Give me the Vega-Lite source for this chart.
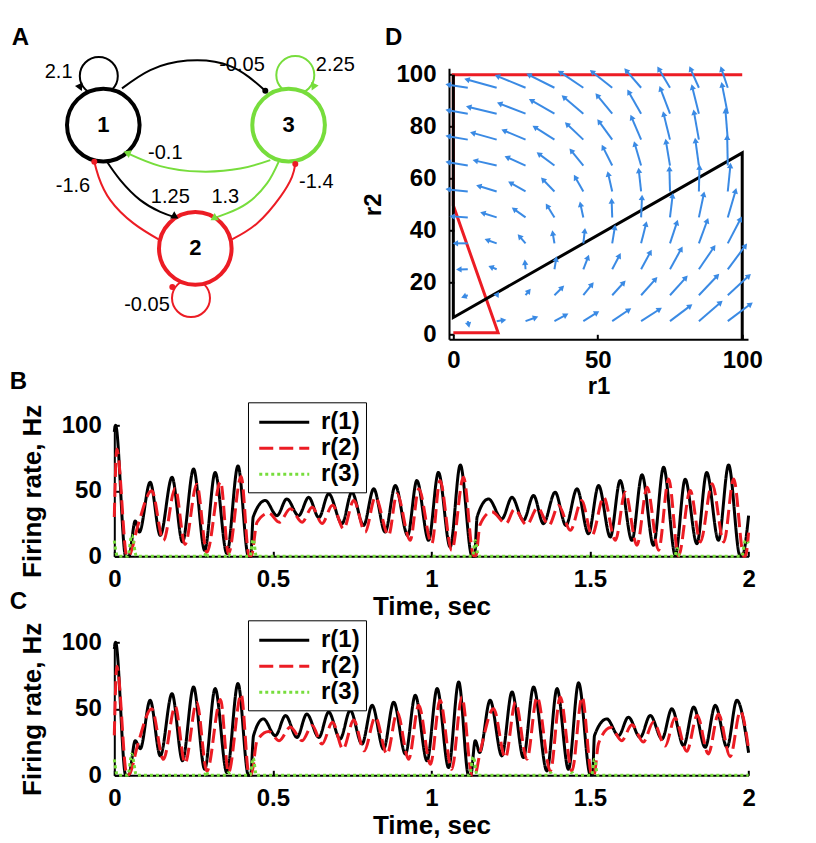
{
"$schema":"https://vega.github.io/schema/vega-lite/v6.json",
"background":"white",
"padding":{"left":9.3,"top":26.3,"right":5,"bottom":2},
"spacing":86,
"bounds":"flush",
"resolve":{"scale":{"color":"independent","strokeDash":"independent"}},
"config":{
 "view":{"stroke":null},
 "font":"Liberation Sans",
 "axis":{"labelFont":"Liberation Sans","labelFontSize":24,"labelFontWeight":"bold","labelColor":"#000","titleFont":"Liberation Sans","titleFontSize":26,"titleFontWeight":"bold","titleColor":"#000","domainColor":"#000","domainWidth":2,"tickColor":"#000","tickWidth":2,"tickSize":-5,"grid":false,"labelFlush":false},
 "legend":{"labelFont":"Liberation Sans","labelFontSize":24,"labelFontWeight":"bold","labelColor":"#000","padding":6,"rowPadding":0,"symbolType":"M-0.7,0L3.3,0","symbolSize":625,"symbolStrokeWidth":3,"strokeColor":"#000","fillColor":"white","labelOffset":39}
},
"datasets":{
 "arrows":[
  {"a":5,"b":95,"c":-1.8,"d":96.2},{"a":5,"b":85,"c":-1.8,"d":86.3},{"a":5,"b":75,"c":-1.8,"d":76.3},{"a":5,"b":65,"c":-1.8,"d":66.3},{"a":5,"b":55,"c":-1.8,"d":55.8},{"a":5,"b":45,"c":-0.4,"d":45.4},{"a":5,"b":35,"c":0.7,"d":35},{"a":5,"b":25,"c":1.9,"d":24.9},{"a":5,"b":15,"c":3.6,"d":14.4},{"a":5,"b":5,"c":5.3,"d":3.5},
  {"a":15,"b":95,"c":4.7,"d":98.2},{"a":15,"b":85,"c":5.3,"d":87.6},{"a":15,"b":75,"c":6.7,"d":77.6},{"a":15,"b":65,"c":7.6,"d":66.9},{"a":15,"b":55,"c":8.8,"d":57.1},{"a":15,"b":45,"c":10.2,"d":46.7},{"a":15,"b":35,"c":11.7,"d":36.3},{"a":15,"b":25,"c":13,"d":25.9},{"a":15,"b":15,"c":15.3,"d":15.5},{"a":15,"b":5,"c":17.4,"d":5.4},
  {"a":25,"b":95,"c":15.2,"d":99.5},{"a":25,"b":85,"c":16,"d":88.9},{"a":25,"b":75,"c":17.5,"d":78.5},{"a":25,"b":65,"c":18.6,"d":68.2},{"a":25,"b":55,"c":19.8,"d":58.3},{"a":25,"b":45,"c":21,"d":48.2},{"a":25,"b":35,"c":22.9,"d":37.7},{"a":25,"b":25,"c":24.8,"d":27.7},{"a":25,"b":15,"c":26.2,"d":16.7},{"a":25,"b":5,"c":28.5,"d":6.4},
  {"a":35,"b":95,"c":26.1,"d":100},{"a":35,"b":85,"c":27,"d":90.1},{"a":35,"b":75,"c":28.2,"d":79.8},{"a":35,"b":65,"c":29.6,"d":69.5},{"a":35,"b":55,"c":31,"d":59.6},{"a":35,"b":45,"c":32.5,"d":49.5},{"a":35,"b":35,"c":34.4,"d":39},{"a":35,"b":25,"c":35.6,"d":29},{"a":35,"b":15,"c":37.7,"d":18},{"a":35,"b":5,"c":39,"d":7.4},
  {"a":45,"b":95,"c":37,"d":101},{"a":45,"b":85,"c":38.2,"d":91.4},{"a":45,"b":75,"c":39.3,"d":81},{"a":45,"b":65,"c":40.8,"d":70.8},{"a":45,"b":55,"c":42.2,"d":60.5},{"a":45,"b":45,"c":44,"d":50.1},{"a":45,"b":35,"c":45.5,"d":39.9},{"a":45,"b":25,"c":46.6,"d":29.6},{"a":45,"b":15,"c":48,"d":19.2},{"a":45,"b":5,"c":49.7,"d":8.3},
  {"a":55,"b":95,"c":48,"d":101.2},{"a":55,"b":85,"c":49.8,"d":92.1},{"a":55,"b":75,"c":50.4,"d":82},{"a":55,"b":65,"c":51.8,"d":72.1},{"a":55,"b":55,"c":53.6,"d":61.8},{"a":55,"b":45,"c":54.8,"d":51.4},{"a":55,"b":35,"c":55.9,"d":41.2},{"a":55,"b":25,"c":57.5,"d":30.3},{"a":55,"b":15,"c":59,"d":19.9},{"a":55,"b":5,"c":60.8,"d":9.4},
  {"a":65,"b":95,"c":59.8,"d":101.7},{"a":65,"b":85,"c":60.7,"d":93.4},{"a":65,"b":75,"c":61.7,"d":83.6},{"a":65,"b":65,"c":62.8,"d":73.4},{"a":65,"b":55,"c":64.2,"d":63.1},{"a":65,"b":45,"c":65.3,"d":52.7},{"a":65,"b":35,"c":66.7,"d":42.5},{"a":65,"b":25,"c":68.2,"d":31.6},{"a":65,"b":15,"c":70,"d":21.2},{"a":65,"b":5,"c":71.4,"d":9.6},
  {"a":75,"b":95,"c":71.1,"d":102.3},{"a":75,"b":85,"c":71.7,"d":94.7},{"a":75,"b":75,"c":72.8,"d":84.9},{"a":75,"b":65,"c":73.6,"d":74.3},{"a":75,"b":55,"c":74.8,"d":63.8},{"a":75,"b":45,"c":75.9,"d":53.4},{"a":75,"b":35,"c":77.4,"d":43.1},{"a":75,"b":25,"c":78.9,"d":32.9},{"a":75,"b":15,"c":80.5,"d":21.8},{"a":75,"b":5,"c":82,"d":10.9},
  {"a":85,"b":95,"c":82.1,"d":102.3},{"a":85,"b":85,"c":82.7,"d":95.3},{"a":85,"b":75,"c":83.3,"d":85.6},{"a":85,"b":65,"c":83.8,"d":74.7},{"a":85,"b":55,"c":85.2,"d":64.4},{"a":85,"b":45,"c":86.7,"d":54},{"a":85,"b":35,"c":87.9,"d":43.8},{"a":85,"b":25,"c":90.2,"d":33.5},{"a":85,"b":15,"c":91.4,"d":22.5},{"a":85,"b":5,"c":92.5,"d":12.2},
  {"a":95,"b":95,"c":92.8,"d":102.3},{"a":95,"b":85,"c":93,"d":96.2},{"a":95,"b":75,"c":94.2,"d":86.2},{"a":95,"b":65,"c":94.8,"d":75.9},{"a":95,"b":55,"c":95.9,"d":65},{"a":95,"b":45,"c":97.7,"d":55.3},{"a":95,"b":35,"c":99.4,"d":44.4},{"a":95,"b":25,"c":101.1,"d":34.1},{"a":95,"b":15,"c":102.3,"d":22.5},{"a":95,"b":5,"c":102.9,"d":11.6}
 ],
 "seriesB":[
  {"s":"r(1)","t":0,"v":95},{"s":"r(1)","t":0.004,"v":100},{"s":"r(1)","t":0.036,"v":0},{"s":"r(1)","t":0.046,"v":0},{"s":"r(1)","t":0.066,"v":27},{"s":"r(1)","t":0.079,"v":18.5},{"s":"r(1)","t":0.113,"v":56.5},{"s":"r(1)","t":0.145,"v":16},{"s":"r(1)","t":0.182,"v":60.3},{"s":"r(1)","t":0.215,"v":10.9},{"s":"r(1)","t":0.25,"v":66.7},{"s":"r(1)","t":0.285,"v":4.6},{"s":"r(1)","t":0.318,"v":64},{"s":"r(1)","t":0.355,"v":2.1},{"s":"r(1)","t":0.39,"v":69},{"s":"r(1)","t":0.423,"v":0},{"s":"r(1)","t":0.43,"v":0},{"s":"r(1)","t":0.438,"v":30},{"s":"r(1)","t":0.476,"v":42.6},{"s":"r(1)","t":0.513,"v":31},{"s":"r(1)","t":0.544,"v":43.8},{"s":"r(1)","t":0.581,"v":31},{"s":"r(1)","t":0.613,"v":45},{"s":"r(1)","t":0.645,"v":29.5},{"s":"r(1)","t":0.676,"v":47.7},{"s":"r(1)","t":0.718,"v":24.9},{"s":"r(1)","t":0.749,"v":48.9},{"s":"r(1)","t":0.786,"v":23.6},{"s":"r(1)","t":0.818,"v":51.5},{"s":"r(1)","t":0.854,"v":18.5},{"s":"r(1)","t":0.886,"v":54},{"s":"r(1)","t":0.925,"v":16},{"s":"r(1)","t":0.954,"v":57.8},{"s":"r(1)","t":0.991,"v":12.2},{"s":"r(1)","t":1.022,"v":64},{"s":"r(1)","t":1.059,"v":7.1},{"s":"r(1)","t":1.091,"v":69.7},{"s":"r(1)","t":1.128,"v":0},{"s":"r(1)","t":1.136,"v":0},{"s":"r(1)","t":1.144,"v":30},{"s":"r(1)","t":1.18,"v":43.8},{"s":"r(1)","t":1.222,"v":28.6},{"s":"r(1)","t":1.254,"v":45},{"s":"r(1)","t":1.29,"v":27.4},{"s":"r(1)","t":1.322,"v":46.4},{"s":"r(1)","t":1.353,"v":24.9},{"s":"r(1)","t":1.39,"v":48.9},{"s":"r(1)","t":1.424,"v":23.6},{"s":"r(1)","t":1.459,"v":51.5},{"s":"r(1)","t":1.495,"v":17.2},{"s":"r(1)","t":1.527,"v":54},{"s":"r(1)","t":1.564,"v":14.7},{"s":"r(1)","t":1.595,"v":57.8},{"s":"r(1)","t":1.632,"v":12.2},{"s":"r(1)","t":1.664,"v":62.2},{"s":"r(1)","t":1.7,"v":8.4},{"s":"r(1)","t":1.732,"v":68},{"s":"r(1)","t":1.769,"v":0.8},{"s":"r(1)","t":1.8,"v":58.8},{"s":"r(1)","t":1.837,"v":9.6},{"s":"r(1)","t":1.868,"v":64},{"s":"r(1)","t":1.905,"v":12.2},{"s":"r(1)","t":1.937,"v":69.7},{"s":"r(1)","t":1.973,"v":0.5},{"s":"r(1)","t":1.98,"v":0.5},{"s":"r(1)","t":2,"v":31},
  {"s":"r(2)","t":0,"v":30},{"s":"r(2)","t":0.008,"v":82},{"s":"r(2)","t":0.04,"v":0},{"s":"r(2)","t":0.048,"v":1},{"s":"r(2)","t":0.075,"v":24},{"s":"r(2)","t":0.118,"v":50},{"s":"r(2)","t":0.155,"v":12},{"s":"r(2)","t":0.192,"v":52},{"s":"r(2)","t":0.223,"v":9},{"s":"r(2)","t":0.26,"v":55},{"s":"r(2)","t":0.292,"v":3},{"s":"r(2)","t":0.335,"v":57},{"s":"r(2)","t":0.36,"v":2},{"s":"r(2)","t":0.4,"v":61},{"s":"r(2)","t":0.425,"v":0.5},{"s":"r(2)","t":0.432,"v":0.5},{"s":"r(2)","t":0.45,"v":26},{"s":"r(2)","t":0.487,"v":33},{"s":"r(2)","t":0.52,"v":26},{"s":"r(2)","t":0.555,"v":36.3},{"s":"r(2)","t":0.592,"v":26},{"s":"r(2)","t":0.624,"v":37.5},{"s":"r(2)","t":0.655,"v":25},{"s":"r(2)","t":0.688,"v":39},{"s":"r(2)","t":0.723,"v":21},{"s":"r(2)","t":0.755,"v":42.6},{"s":"r(2)","t":0.791,"v":18.5},{"s":"r(2)","t":0.823,"v":45.1},{"s":"r(2)","t":0.865,"v":16},{"s":"r(2)","t":0.891,"v":47.7},{"s":"r(2)","t":0.933,"v":12.2},{"s":"r(2)","t":0.96,"v":51.5},{"s":"r(2)","t":1.001,"v":9.6},{"s":"r(2)","t":1.027,"v":57.8},{"s":"r(2)","t":1.064,"v":4.6},{"s":"r(2)","t":1.101,"v":60.3},{"s":"r(2)","t":1.133,"v":0.5},{"s":"r(2)","t":1.14,"v":0.5},{"s":"r(2)","t":1.153,"v":24},{"s":"r(2)","t":1.19,"v":34},{"s":"r(2)","t":1.235,"v":25},{"s":"r(2)","t":1.262,"v":36},{"s":"r(2)","t":1.3,"v":24},{"s":"r(2)","t":1.335,"v":37},{"s":"r(2)","t":1.37,"v":23.6},{"s":"r(2)","t":1.401,"v":38.8},{"s":"r(2)","t":1.438,"v":19.8},{"s":"r(2)","t":1.474,"v":42.6},{"s":"r(2)","t":1.506,"v":16},{"s":"r(2)","t":1.543,"v":45.1},{"s":"r(2)","t":1.58,"v":12.2},{"s":"r(2)","t":1.611,"v":48.9},{"s":"r(2)","t":1.648,"v":8.4},{"s":"r(2)","t":1.68,"v":52.7},{"s":"r(2)","t":1.716,"v":4.6},{"s":"r(2)","t":1.748,"v":59},{"s":"r(2)","t":1.779,"v":0.3},{"s":"r(2)","t":1.816,"v":50.2},{"s":"r(2)","t":1.848,"v":11},{"s":"r(2)","t":1.885,"v":55.3},{"s":"r(2)","t":1.922,"v":11},{"s":"r(2)","t":1.953,"v":59},{"s":"r(2)","t":1.985,"v":0},{"s":"r(2)","t":1.99,"v":0},{"s":"r(2)","t":2,"v":18},
  {"s":"r(3)","t":0,"v":12},{"s":"r(3)","t":0.01,"v":0},{"s":"r(3)","t":0.043,"v":0},{"s":"r(3)","t":0.055,"v":16},{"s":"r(3)","t":0.07,"v":0},{"s":"r(3)","t":0.284,"v":0},{"s":"r(3)","t":0.29,"v":3},{"s":"r(3)","t":0.296,"v":0},{"s":"r(3)","t":0.354,"v":0},{"s":"r(3)","t":0.36,"v":2},{"s":"r(3)","t":0.366,"v":0},{"s":"r(3)","t":0.428,"v":0},{"s":"r(3)","t":0.438,"v":13},{"s":"r(3)","t":0.448,"v":0},{"s":"r(3)","t":1.13,"v":0},{"s":"r(3)","t":1.138,"v":12},{"s":"r(3)","t":1.148,"v":0},{"s":"r(3)","t":1.767,"v":0},{"s":"r(3)","t":1.775,"v":6},{"s":"r(3)","t":1.783,"v":0},{"s":"r(3)","t":1.978,"v":0},{"s":"r(3)","t":1.99,"v":12},{"s":"r(3)","t":2,"v":10}
 ],
 "seriesC":[
  {"s":"r(1)","t":0,"v":95},{"s":"r(1)","t":0.004,"v":100},{"s":"r(1)","t":0.036,"v":0},{"s":"r(1)","t":0.046,"v":0},{"s":"r(1)","t":0.066,"v":26},{"s":"r(1)","t":0.082,"v":20},{"s":"r(1)","t":0.113,"v":56.4},{"s":"r(1)","t":0.145,"v":14.6},{"s":"r(1)","t":0.182,"v":61.4},{"s":"r(1)","t":0.215,"v":11},{"s":"r(1)","t":0.25,"v":66.4},{"s":"r(1)","t":0.285,"v":4.6},{"s":"r(1)","t":0.318,"v":65.2},{"s":"r(1)","t":0.355,"v":2},{"s":"r(1)","t":0.39,"v":69},{"s":"r(1)","t":0.423,"v":0},{"s":"r(1)","t":0.43,"v":0},{"s":"r(1)","t":0.439,"v":29.8},{"s":"r(1)","t":0.47,"v":42.4},{"s":"r(1)","t":0.508,"v":29.8},{"s":"r(1)","t":0.54,"v":44.9},{"s":"r(1)","t":0.576,"v":28.5},{"s":"r(1)","t":0.607,"v":46},{"s":"r(1)","t":0.645,"v":28.5},{"s":"r(1)","t":0.676,"v":47.5},{"s":"r(1)","t":0.712,"v":27.3},{"s":"r(1)","t":0.744,"v":48.8},{"s":"r(1)","t":0.781,"v":23.5},{"s":"r(1)","t":0.813,"v":52.6},{"s":"r(1)","t":0.849,"v":19.7},{"s":"r(1)","t":0.881,"v":55},{"s":"r(1)","t":0.918,"v":15.9},{"s":"r(1)","t":0.949,"v":60.1},{"s":"r(1)","t":0.986,"v":10.9},{"s":"r(1)","t":1.018,"v":65.2},{"s":"r(1)","t":1.054,"v":5.8},{"s":"r(1)","t":1.086,"v":70.2},{"s":"r(1)","t":1.117,"v":0},{"s":"r(1)","t":1.124,"v":0},{"s":"r(1)","t":1.138,"v":26},{"s":"r(1)","t":1.152,"v":17.2},{"s":"r(1)","t":1.185,"v":56.4},{"s":"r(1)","t":1.222,"v":14.6},{"s":"r(1)","t":1.254,"v":62.7},{"s":"r(1)","t":1.29,"v":13.3},{"s":"r(1)","t":1.322,"v":66.4},{"s":"r(1)","t":1.364,"v":3.3},{"s":"r(1)","t":1.396,"v":65.2},{"s":"r(1)","t":1.432,"v":4.5},{"s":"r(1)","t":1.464,"v":69.5},{"s":"r(1)","t":1.501,"v":0.5},{"s":"r(1)","t":1.508,"v":0.5},{"s":"r(1)","t":1.514,"v":29.8},{"s":"r(1)","t":1.553,"v":42.4},{"s":"r(1)","t":1.59,"v":29.8},{"s":"r(1)","t":1.621,"v":43.7},{"s":"r(1)","t":1.658,"v":28.5},{"s":"r(1)","t":1.69,"v":45},{"s":"r(1)","t":1.727,"v":27.3},{"s":"r(1)","t":1.758,"v":50},{"s":"r(1)","t":1.795,"v":22.2},{"s":"r(1)","t":1.827,"v":51.3},{"s":"r(1)","t":1.863,"v":21},{"s":"r(1)","t":1.895,"v":52.6},{"s":"r(1)","t":1.932,"v":21},{"s":"r(1)","t":1.963,"v":56.4},{"s":"r(1)","t":2,"v":17},
  {"s":"r(2)","t":0,"v":30},{"s":"r(2)","t":0.008,"v":82},{"s":"r(2)","t":0.04,"v":0},{"s":"r(2)","t":0.048,"v":1},{"s":"r(2)","t":0.075,"v":24},{"s":"r(2)","t":0.118,"v":50},{"s":"r(2)","t":0.155,"v":12},{"s":"r(2)","t":0.192,"v":52},{"s":"r(2)","t":0.223,"v":9},{"s":"r(2)","t":0.26,"v":55},{"s":"r(2)","t":0.292,"v":3},{"s":"r(2)","t":0.335,"v":57},{"s":"r(2)","t":0.36,"v":2},{"s":"r(2)","t":0.4,"v":61},{"s":"r(2)","t":0.425,"v":0.5},{"s":"r(2)","t":0.432,"v":0.5},{"s":"r(2)","t":0.45,"v":26},{"s":"r(2)","t":0.487,"v":33},{"s":"r(2)","t":0.52,"v":26},{"s":"r(2)","t":0.555,"v":36.3},{"s":"r(2)","t":0.592,"v":26},{"s":"r(2)","t":0.624,"v":37.5},{"s":"r(2)","t":0.655,"v":23.5},{"s":"r(2)","t":0.688,"v":39.9},{"s":"r(2)","t":0.721,"v":19.7},{"s":"r(2)","t":0.755,"v":41.5},{"s":"r(2)","t":0.788,"v":18.4},{"s":"r(2)","t":0.823,"v":43.7},{"s":"r(2)","t":0.86,"v":15.9},{"s":"r(2)","t":0.892,"v":47.5},{"s":"r(2)","t":0.928,"v":12},{"s":"r(2)","t":0.96,"v":52.6},{"s":"r(2)","t":0.997,"v":8.3},{"s":"r(2)","t":1.027,"v":56.4},{"s":"r(2)","t":1.064,"v":4.5},{"s":"r(2)","t":1.096,"v":58.9},{"s":"r(2)","t":1.128,"v":0},{"s":"r(2)","t":1.136,"v":0},{"s":"r(2)","t":1.154,"v":18},{"s":"r(2)","t":1.196,"v":50},{"s":"r(2)","t":1.233,"v":13},{"s":"r(2)","t":1.265,"v":55},{"s":"r(2)","t":1.301,"v":12},{"s":"r(2)","t":1.333,"v":58.9},{"s":"r(2)","t":1.375,"v":3.3},{"s":"r(2)","t":1.406,"v":58.9},{"s":"r(2)","t":1.443,"v":3.3},{"s":"r(2)","t":1.475,"v":58.9},{"s":"r(2)","t":1.506,"v":0},{"s":"r(2)","t":1.512,"v":0},{"s":"r(2)","t":1.527,"v":24},{"s":"r(2)","t":1.565,"v":36},{"s":"r(2)","t":1.6,"v":26},{"s":"r(2)","t":1.632,"v":38},{"s":"r(2)","t":1.668,"v":25},{"s":"r(2)","t":1.7,"v":40},{"s":"r(2)","t":1.737,"v":22},{"s":"r(2)","t":1.768,"v":43},{"s":"r(2)","t":1.805,"v":18},{"s":"r(2)","t":1.838,"v":45},{"s":"r(2)","t":1.873,"v":16},{"s":"r(2)","t":1.905,"v":46},{"s":"r(2)","t":1.942,"v":14},{"s":"r(2)","t":1.974,"v":48},{"s":"r(2)","t":2,"v":20},
  {"s":"r(3)","t":0,"v":12},{"s":"r(3)","t":0.01,"v":0},{"s":"r(3)","t":0.043,"v":0},{"s":"r(3)","t":0.055,"v":16},{"s":"r(3)","t":0.07,"v":0},{"s":"r(3)","t":0.284,"v":0},{"s":"r(3)","t":0.29,"v":3},{"s":"r(3)","t":0.296,"v":0},{"s":"r(3)","t":0.354,"v":0},{"s":"r(3)","t":0.36,"v":2},{"s":"r(3)","t":0.366,"v":0},{"s":"r(3)","t":0.428,"v":0},{"s":"r(3)","t":0.438,"v":13},{"s":"r(3)","t":0.448,"v":0},{"s":"r(3)","t":1.12,"v":0},{"s":"r(3)","t":1.132,"v":14},{"s":"r(3)","t":1.144,"v":0},{"s":"r(3)","t":1.37,"v":0},{"s":"r(3)","t":1.376,"v":2},{"s":"r(3)","t":1.382,"v":0},{"s":"r(3)","t":1.438,"v":0},{"s":"r(3)","t":1.444,"v":2},{"s":"r(3)","t":1.45,"v":0},{"s":"r(3)","t":1.505,"v":0},{"s":"r(3)","t":1.514,"v":12},{"s":"r(3)","t":1.524,"v":0},{"s":"r(3)","t":2,"v":0}
 ]
},
"vconcat":[
 {
  "width":633.7,"height":271,
  "resolve":{"scale":{"x":"independent","y":"independent"}},
  "layer":[
   {"layer":[
     {"data":{"values":[{"o":0,"a":100,"b":100},{"o":1,"a":0,"b":100},{"o":2,"a":0,"b":49.6},{"o":3,"a":15.5,"b":0.5},{"o":4,"a":0,"b":0.5}]},
      "mark":{"type":"line","color":"#ec1c24","strokeWidth":3},
      "encoding":{
       "x":{"field":"a","type":"quantitative","scale":{"domain":[-1.5,102],"range":[334.7,633.7],"nice":false,"zero":false},"axis":{"orient":"bottom","values":[0,50,100],"title":"r1","titleFontSize":24,"labelPadding":33,"labelBaseline":"alphabetic","titleX":484.2,"titleY":54,"titleBaseline":"alphabetic","titleAlign":"center","titleAngle":0}},
       "y":{"field":"b","type":"quantitative","scale":{"domain":[-2,102.5],"nice":false,"zero":false},"axis":{"orient":"left","offset":-334.7,"values":[0,20,40,60,80,100],"title":"r2","titleFontSize":24,"labelPadding":18,"titleX":-68.4,"titleY":136,"titleBaseline":"alphabetic","titleAlign":"center","titleAngle":-90}},
       "order":{"field":"o","type":"quantitative"}}},
     {"data":{"values":[{"o":0,"a":0,"b":100},{"o":1,"a":0,"b":6.4},{"o":2,"a":100,"b":69.9},{"o":3,"a":100,"b":-2}]},
      "mark":{"type":"line","color":"#000000","strokeWidth":3},
      "encoding":{
       "x":{"field":"a","type":"quantitative","scale":{"domain":[-1.5,102],"range":[334.7,633.7],"nice":false,"zero":false},"axis":{"orient":"bottom","values":[0,50,100],"title":"r1","titleFontSize":24,"labelPadding":33,"labelBaseline":"alphabetic","titleX":484.2,"titleY":54,"titleBaseline":"alphabetic","titleAlign":"center","titleAngle":0}},
       "y":{"field":"b","type":"quantitative","scale":{"domain":[-2,102.5],"nice":false,"zero":false},"axis":{"orient":"left","offset":-334.7,"values":[0,20,40,60,80,100],"title":"r2","titleFontSize":24,"labelPadding":18,"titleX":-68.4,"titleY":136,"titleBaseline":"alphabetic","titleAlign":"center","titleAngle":-90}},
       "order":{"field":"o","type":"quantitative"}}},
     {"data":{"name":"arrows"},
      "mark":{"type":"rule","color":"#3a8ae4","strokeWidth":2},
      "encoding":{
       "x":{"field":"a","type":"quantitative","scale":{"domain":[-1.5,102],"range":[334.7,633.7],"nice":false,"zero":false},"axis":{"orient":"bottom","values":[0,50,100],"title":"r1","titleFontSize":24,"labelPadding":33,"labelBaseline":"alphabetic","titleX":484.2,"titleY":54,"titleBaseline":"alphabetic","titleAlign":"center","titleAngle":0}},
       "y":{"field":"b","type":"quantitative","scale":{"domain":[-2,102.5],"nice":false,"zero":false},"axis":{"orient":"left","offset":-334.7,"values":[0,20,40,60,80,100],"title":"r2","titleFontSize":24,"labelPadding":18,"titleX":-68.4,"titleY":136,"titleBaseline":"alphabetic","titleAlign":"center","titleAngle":-90}},
       "x2":{"field":"c"},"y2":{"field":"d"}}},
     {"data":{"name":"arrows"},
      "transform":[{"calculate":"atan2((datum.c-datum.a)*2.889,(datum.d-datum.b)*2.593)*180/PI","as":"ang"}],
      "mark":{"type":"point","shape":"triangle-up","filled":true,"size":40,"color":"#3a8ae4","opacity":1},
      "encoding":{
       "x":{"field":"c","type":"quantitative","scale":{"domain":[-1.5,102],"range":[334.7,633.7],"nice":false,"zero":false},"axis":{"orient":"bottom","values":[0,50,100],"title":"r1","titleFontSize":24,"labelPadding":33,"labelBaseline":"alphabetic","titleX":484.2,"titleY":54,"titleBaseline":"alphabetic","titleAlign":"center","titleAngle":0}},
       "y":{"field":"d","type":"quantitative","scale":{"domain":[-2,102.5],"nice":false,"zero":false},"axis":{"orient":"left","offset":-334.7,"values":[0,20,40,60,80,100],"title":"r2","titleFontSize":24,"labelPadding":18,"titleX":-68.4,"titleY":136,"titleBaseline":"alphabetic","titleAlign":"center","titleAngle":-90}},
       "angle":{"field":"ang","type":"quantitative","scale":null}}}
   ]},
   {"encoding":{
      "x":{"field":"px","type":"quantitative","scale":{"domain":[11.4,74.77],"nice":false,"zero":false},"axis":null},
      "y":{"field":"py","type":"quantitative","scale":{"domain":[6.82,33.92],"nice":false,"zero":false,"reverse":true},"axis":null}},
    "layer":[
     {"data":{"values":[
       {"e":"13","src":"1","o":0,"px":12.17,"py":8.83},{"e":"13","src":"1","o":1,"px":15.0,"py":7.0},{"e":"13","src":"1","o":2,"px":18.7,"py":6.05},{"e":"13","src":"1","o":3,"px":23.0,"py":6.6},{"e":"13","src":"1","o":4,"px":26.5,"py":9.07},
       {"e":"31","src":"3","o":0,"px":27.0,"py":16.0},{"e":"31","src":"3","o":1,"px":24.0,"py":16.85},{"e":"31","src":"3","o":2,"px":20.0,"py":17.15},{"e":"31","src":"3","o":3,"px":16.0,"py":16.6},{"e":"31","src":"3","o":4,"px":12.8,"py":15.35},
       {"e":"12","src":"1","o":0,"px":10.67,"py":16.17},{"e":"12","src":"1","o":1,"px":12.0,"py":18.0},{"e":"12","src":"1","o":2,"px":14.0,"py":20.0},{"e":"12","src":"1","o":3,"px":16.0,"py":21.17},{"e":"12","src":"1","o":4,"px":17.5,"py":21.73},
       {"e":"32","src":"3","o":0,"px":27.83,"py":16.17},{"e":"32","src":"3","o":1,"px":26.67,"py":18.33},{"e":"32","src":"3","o":2,"px":24.67,"py":20.33},{"e":"32","src":"3","o":3,"px":22.67,"py":21.33},{"e":"32","src":"3","o":4,"px":21.33,"py":21.83},
       {"e":"21","src":"2","o":0,"px":15.83,"py":23.93},{"e":"21","src":"2","o":1,"px":13.33,"py":22.33},{"e":"21","src":"2","o":2,"px":11.0,"py":20.0},{"e":"21","src":"2","o":3,"px":9.83,"py":17.67},{"e":"21","src":"2","o":4,"px":9.4,"py":16.17},
       {"e":"23","src":"2","o":0,"px":23.17,"py":23.93},{"e":"23","src":"2","o":1,"px":25.67,"py":22.33},{"e":"23","src":"2","o":2,"px":28.0,"py":19.67},{"e":"23","src":"2","o":3,"px":29.17,"py":17.67},{"e":"23","src":"2","o":4,"px":29.5,"py":16.4}]},
      "mark":{"type":"line","interpolate":"natural","strokeWidth":2},
      "encoding":{"color":{"field":"src","type":"nominal","scale":{"domain":["1","2","3"],"range":["#000000","#ec1c24","#77dd3c"]},"legend":null},"detail":{"field":"e"},"order":{"field":"o","type":"quantitative"}}},
     {"data":{"values":[{"src":"1","px":9.85,"py":7.58},{"src":"3","px":29.5,"py":7.5},{"src":"2","px":19.07,"py":29.8}]},
      "mark":{"type":"point","shape":"circle","filled":false,"size":1444,"strokeWidth":2,"opacity":1},
      "encoding":{"color":{"field":"src","type":"nominal","scale":{"domain":["1","2","3"],"range":["#000000","#ec1c24","#77dd3c"]},"legend":null}}},
     {"data":{"values":[{"src":"1","px":10.3,"py":12.5},{"src":"3","px":28.83,"py":12.5},{"src":"2","px":19.5,"py":24.83}]},
      "mark":{"type":"point","shape":"circle","filled":true,"fill":"white","size":5270,"strokeWidth":4,"opacity":1,"fillOpacity":1,"strokeOpacity":1},
      "encoding":{"stroke":{"field":"src","type":"nominal","scale":{"domain":["1","2","3"],"range":["#000000","#ec1c24","#77dd3c"]},"legend":null}}},
     {"data":{"values":[{"src":"1","px":8.0,"py":8.75,"h":155},{"src":"3","px":31.3,"py":8.7,"h":205},{"src":"3","px":12.67,"py":15.27,"h":291},{"src":"1","px":17.5,"py":21.67,"h":120},{"src":"3","px":21.33,"py":21.83,"h":240}]},
      "mark":{"type":"point","shape":"triangle-up","filled":true,"size":70,"opacity":1},
      "encoding":{"color":{"field":"src","type":"nominal","scale":{"domain":["1","2","3"],"range":["#000000","#ec1c24","#77dd3c"]},"legend":null},"angle":{"field":"h","type":"quantitative","scale":null}}},
     {"data":{"values":[{"src":"1","px":26.5,"py":9.07},{"src":"2","px":9.4,"py":16.17},{"src":"2","px":29.5,"py":16.4},{"src":"2","px":17.2,"py":28.7}]},
      "mark":{"type":"point","shape":"circle","filled":true,"size":36,"opacity":1},
      "encoding":{"color":{"field":"src","type":"nominal","scale":{"domain":["1","2","3"],"range":["#000000","#ec1c24","#77dd3c"]},"legend":null}}},
     {"data":{"values":[{"t":"2.1","px":5.83,"py":7.17},{"t":"-0.05","px":24.17,"py":6.45},{"t":"2.25","px":33.5,"py":6.5},{"t":"-0.1","px":16.5,"py":15.33},{"t":"-1.6","px":7.27,"py":18.57},{"t":"1.25","px":17.0,"py":19.67},{"t":"1.3","px":22.5,"py":19.67},{"t":"-1.4","px":31.6,"py":18.17},{"t":"-0.05","px":14.67,"py":30.5}]},
      "mark":{"type":"text","font":"Liberation Sans","fontSize":20,"color":"#000","align":"center","baseline":"middle"},
      "encoding":{"text":{"field":"t"}}},
     {"data":{"values":[{"t":"1","px":10.3,"py":12.5},{"t":"3","px":28.83,"py":12.5},{"t":"2","px":19.5,"py":24.83}]},
      "mark":{"type":"text","font":"Liberation Sans","fontSize":22,"fontWeight":"bold","color":"#000","align":"center","baseline":"middle"},
      "encoding":{"text":{"field":"t"}}},
     {"data":{"values":[{"t":"A","px":2.0,"py":3.83},{"t":"D","px":39.33,"py":3.83},{"t":"B","px":1.8,"py":38.2},{"t":"C","px":1.8,"py":60.2}]},
      "mark":{"type":"text","font":"Liberation Sans","fontSize":24,"fontWeight":"bold","color":"#000","align":"center","baseline":"middle"},
      "encoding":{"text":{"field":"t"}}}
    ]}
  ]
 },
 {
  "width":634.3,"height":131,
  "data":{"name":"seriesB"},
  "mark":{"type":"line","interpolate":"monotone","strokeWidth":3},
  "encoding":{
   "x":{"field":"t","type":"quantitative","scale":{"domain":[0,2],"nice":false,"zero":false},"axis":{"values":[0,0.5,1,1.5,2],"format":"~g","title":"Time, sec","labelPadding":35,"labelBaseline":"alphabetic","titleX":317.15,"titleY":58,"titleBaseline":"alphabetic","titleAlign":"center"}},
   "y":{"field":"v","type":"quantitative","scale":{"domain":[0,100],"nice":false},"axis":{"values":[0,50,100],"title":"Firing rate, Hz","labelPadding":18,"titleX":-73.4,"titleY":65.5,"titleBaseline":"alphabetic","titleAlign":"center","titleAngle":-90}},
   "color":{"field":"s","type":"nominal","scale":{"domain":["r(1)","r(2)","r(3)"],"range":["#000000","#ec1c24","#77dd3c"]},"legend":{"orient":"none","legendX":133.7,"legendY":-23,"title":null,"direction":"vertical"}},
   "strokeDash":{"field":"s","type":"nominal","scale":{"domain":["r(1)","r(2)","r(3)"],"range":[[1,0],[14,6],[3,3]]},"legend":{"orient":"none","legendX":133.7,"legendY":-23,"title":null,"direction":"vertical"}}
  }
 },
 {
  "width":634.3,"height":133,
  "data":{"name":"seriesC"},
  "mark":{"type":"line","interpolate":"monotone","strokeWidth":3},
  "encoding":{
   "x":{"field":"t","type":"quantitative","scale":{"domain":[0,2],"nice":false,"zero":false},"axis":{"values":[0,0.5,1,1.5,2],"format":"~g","title":"Time, sec","labelPadding":35,"labelBaseline":"alphabetic","titleX":317.15,"titleY":58,"titleBaseline":"alphabetic","titleAlign":"center"}},
   "y":{"field":"v","type":"quantitative","scale":{"domain":[0,100],"nice":false},"axis":{"values":[0,50,100],"title":"Firing rate, Hz","labelPadding":18,"titleX":-73.4,"titleY":66.5,"titleBaseline":"alphabetic","titleAlign":"center","titleAngle":-90}},
   "color":{"field":"s","type":"nominal","scale":{"domain":["r(1)","r(2)","r(3)"],"range":["#000000","#ec1c24","#77dd3c"]},"legend":{"orient":"none","legendX":133.7,"legendY":-22,"title":null,"direction":"vertical"}},
   "strokeDash":{"field":"s","type":"nominal","scale":{"domain":["r(1)","r(2)","r(3)"],"range":[[1,0],[14,6],[3,3]]},"legend":{"orient":"none","legendX":133.7,"legendY":-22,"title":null,"direction":"vertical"}}
  }
 }
]
}
